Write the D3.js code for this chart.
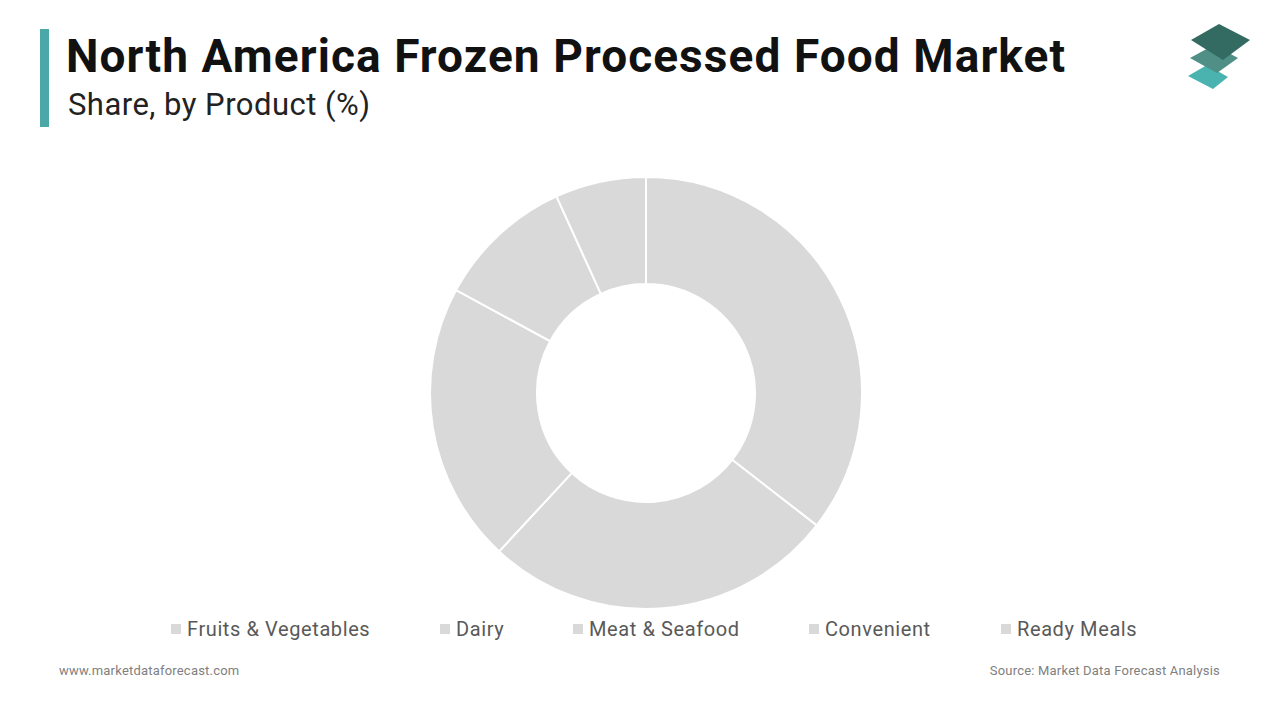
<!DOCTYPE html>
<html><head><meta charset="utf-8">
<script src="https://cdn.jsdelivr.net/npm/d3@7"></script>
<style>body{margin:0;background:#fff;}svg{display:block;font-family:Roboto,"Noto Sans",sans-serif;}</style>
</head><body>
<svg id="c" width="1280" height="720"></svg>
<script>
const categories = ["Fruits & Vegetables","Dairy","Meat & Seafood","Convenient","Ready Meals"];
const values = [35.5, 26.4, 21.0, 10.3, 6.8];
const legendX = [171, 440, 573, 809, 1001];

const svg = d3.select("#c");
svg.append("rect").attr("x",40).attr("y",29).attr("width",9).attr("height",98).attr("fill","#4aa9a8");
svg.append("text").attr("x",66).attr("y",72).attr("font-size",46).attr("font-weight",700).attr("fill","#111")
  .attr("textLength",999).attr("lengthAdjust","spacing").text("North America Frozen Processed Food Market");
svg.append("text").attr("x",68).attr("y",115).attr("font-size",31).attr("fill","#222")
  .attr("textLength",302).attr("lengthAdjust","spacing").text("Share, by Product (%)");

// logo
const logo = svg.append("g");
logo.append("polygon").attr("points","1188,76 1207,65 1228,77 1213,89").attr("fill","#4ab3b0");
logo.append("polygon").attr("points","1190,58 1214,45 1238,58 1217,73").attr("fill","#4f8f86");
logo.append("polygon").attr("points","1191,40 1219,24 1250,40 1223,60").attr("fill","#336b63");

const cx=646, cy=393, R=216, r=109;
const pie = d3.pie().sort(null).value(d=>d)(values);
const arc = d3.arc().innerRadius(r).outerRadius(R);
svg.append("g").attr("transform",`translate(${cx},${cy})`)
  .selectAll("path").data(pie).join("path")
  .attr("d",arc).attr("fill","#d9d9d9").attr("stroke","#fff").attr("stroke-width",2);

const lg = svg.append("g");
categories.forEach((c,i)=>{
  lg.append("rect").attr("x",legendX[i]).attr("y",624).attr("width",10).attr("height",10).attr("fill","#d9d9d9");
  lg.append("text").attr("x",legendX[i]+16).attr("y",636).attr("font-size",20).attr("letter-spacing",0.6).attr("fill","#595959").text(c);
});

svg.append("text").attr("x",59).attr("y",675).attr("font-size",13).attr("letter-spacing",0.2).attr("fill","#808080").text("www.marketdataforecast.com");
svg.append("text").attr("x",1220).attr("y",675).attr("text-anchor","end").attr("font-size",13).attr("letter-spacing",0.2).attr("fill","#808080").text("Source: Market Data Forecast Analysis");
</script>
</body></html>
